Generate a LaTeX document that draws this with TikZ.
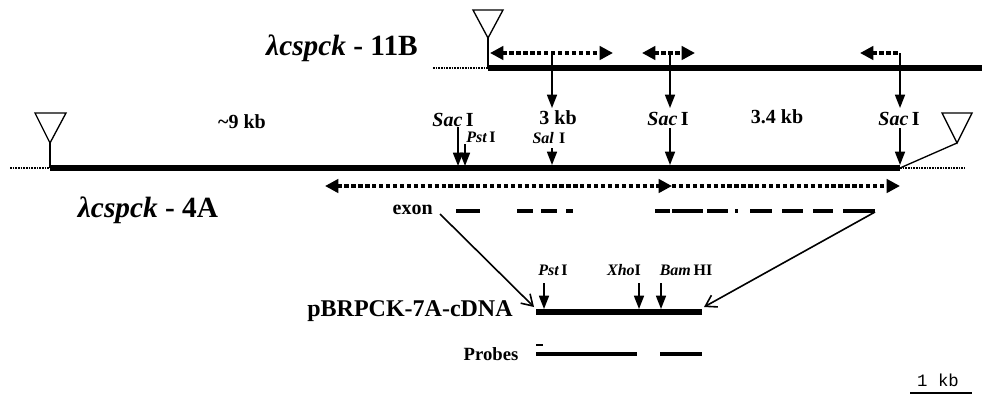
\documentclass[tikz,border=0pt]{standalone}
\usepackage{fontspec}
\setmainfont{Liberation Serif}
\setmonofont{Liberation Mono}
\usepackage{tikz}
\usetikzlibrary{arrows.meta, positioning}

\newcommand{\enzname}[2]{{\itshape #1}\,#2}

\begin{document}
\begin{tikzpicture}[
    x=0.75pt, y=-0.75pt,
    dnaline/.style={line width=4.6pt},
    cdnaline/.style={line width=4pt},
    flank/.style={line width=1.1pt, dash pattern=on 1.2pt off 0.8pt},
    insert/.style={line width=1pt, line join=miter},
    tip/.style={Triangle[length=10pt,width=10pt]},
    span/.style={line width=2.6pt, dash pattern=on 3.2pt off 2pt, {Triangle[length=10pt,width=10pt]}-{Triangle[length=10pt,width=10pt]}},
    cut/.style={line width=1.2pt, -{Triangle[length=10pt,width=7.5pt]}},
    exonbar/.style={line width=3pt},
    probebar/.style={line width=2.6pt},
    link/.style={line width=1.2pt, -{Straight Barb[length=8pt,width=10pt]}},
    lbl/.style={font=\bfseries\fontsize{15}{17}\selectfont, inner sep=0pt},
    small/.style={font=\bfseries\fontsize{12}{14}\selectfont, inner sep=0pt},
    clone/.style={font=\bfseries\fontsize{22}{24}\selectfont, inner sep=0pt},
]
    \useasboundingbox (0,0) rectangle (982,394);

    % clone 11B
    \coordinate (ta) at (433,68);
    \coordinate (tb) at (488,68);
    \coordinate (tc) at (982,68);
    \draw[flank] (ta) -- (tb);
    \draw[dnaline] (tb) -- (tc);
    \coordinate (tv) at (488,38);
    \draw[insert] (473,10) -- (503,10) -- (tv) -- cycle;
    \draw[insert] (tv) -- (tb);
    \node[clone] (c11b) at (342,48) {{\itshape λcspck} - 11B};

    % clone 11B fragments
    \draw[span] (490,53) -- (613,53);
    \draw[span] (642,53) -- (695,53);
    \draw[span, {Triangle[length=10pt,width=10pt]}-] (860,53) -- (900,53);
    \coordinate (s1) at (552,53);
    \coordinate (s2) at (670,53);
    \coordinate (s3) at (900,53);
    \coordinate (e1) at (552,108);
    \coordinate (e2) at (670,108);
    \coordinate (e3) at (900,108);
    \draw[cut] (s1) -- (e1);
    \draw[cut] (s2) -- (e2);
    \draw[cut] (s3) -- (e3);

    % labels between clones
    \node[lbl] (k9) at (242,122) {\textasciitilde 9 kb};
    \node[lbl] (k3) at (558,118) {3 kb};
    \node[lbl] (k34) at (777,117) {3.4 kb};
    \node[lbl] (sac1) at (453,120) {\enzname{Sac}{I}};
    \node[lbl] (sac2) at (668,119) {\enzname{Sac}{I}};
    \node[lbl] (sac3) at (899,119) {\enzname{Sac}{I}};
    \node[small] (pst1) at (481,137) {\enzname{Pst}{I}};
    \node[small] (sal1) at (549,138) {\enzname{Sal}{\,I}};

    % clone 4A
    \coordinate (la) at (10,168);
    \coordinate (lb) at (50,168);
    \coordinate (lc) at (900,168);
    \coordinate (ld) at (965,168);
    \draw[flank] (la) -- (lb);
    \draw[dnaline] (lb) -- (lc);
    \draw[flank] (lc) -- (ld);
    \coordinate (lv) at (50,143);
    \draw[insert] (35,113) -- (66,113) -- (lv) -- cycle;
    \draw[insert] (lv) -- (lb);
    \coordinate (rv) at (957,143);
    \draw[insert] (942,113) -- (972,113) -- (rv) -- cycle;
    \draw[insert] (rv) -- (lc);
    \node[clone] (c4a) at (148,210) {{\itshape λcspck} - 4A};

    % sites on 4A
    \draw[cut] (458,127) -- (458,166);
    \draw[cut] (465,144) -- (465,166);
    \draw[cut] (552,148) -- (552,165);
    \draw[cut] (670,128) -- (670,165);
    \draw[cut] (900,128) -- (900,165);

    % sequenced region
    \draw[span] (325,186) -- (672,186);
    \draw[span, -{Triangle[length=10pt,width=10pt]}] (672,186) -- (900,186);

    % exons
    \node[lbl, anchor=east] (exon) at (433,210) {exon};
    \foreach \a/\b in {456/480, 517/533, 541/557, 566/573, 655/670, 672/703, 707/728, 735/738, 750/772, 782/803, 813/833, 843/875}
        \draw[exonbar] (\a,211) -- (\b,211);
    \coordinate (xl) at (440,214);
    \coordinate (xr) at (875,212);

    % cDNA
    \coordinate (ca) at (536,312);
    \coordinate (cb) at (702,312);
    \draw[cdnaline] (ca) -- (cb);
    \node[font=\bfseries\fontsize{18}{20}\selectfont, inner sep=0pt] (cdna) at (410,311) {pBRPCK-7A-cDNA};
    \draw[link] (xl) -- (534,307);
    \draw[link] (xr) -- (704,307);
    \draw[cut] (544,283) -- (544,309);
    \draw[cut] (639,283) -- (639,309);
    \draw[cut] (661,283) -- (661,309);
    \node[small] (pst2) at (553,270) {\enzname{Pst}{I}};
    \node[small] (xho) at (624,270) {{\itshape Xho}I};
    \node[small] (bam) at (686,270) {\enzname{Bam}{HI}};

    % probes
    \node[font=\bfseries\fontsize{14}{16}\selectfont, inner sep=0pt] (probes) at (491,354) {Probes};
    \draw[probebar] (536,354) -- (637,354);
    \draw[probebar] (660,354) -- (702,354);
    \draw[line width=1.5pt] (536,345) -- (543,345);

    % scale
    \node[font=\ttfamily\fontsize{13}{15}\selectfont, inner sep=0pt] (kb) at (938,380) {1 kb};
    \draw[line width=0.8pt] (910,393) -- (972,393);
\end{tikzpicture}
\end{document}
